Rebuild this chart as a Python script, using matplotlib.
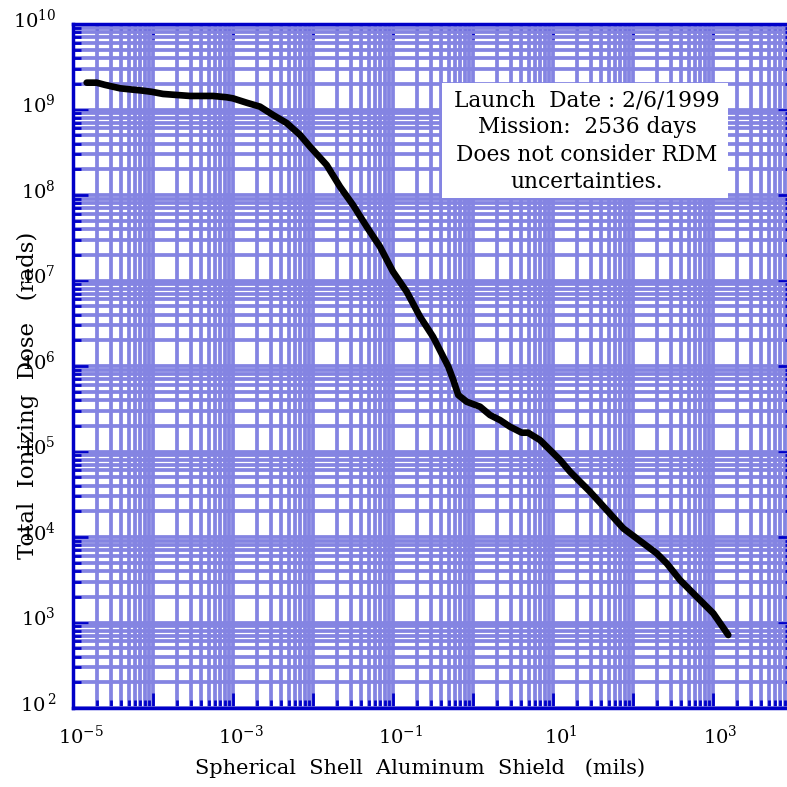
import matplotlib
matplotlib.use("Agg")
import matplotlib.pyplot as plt
import matplotlib.transforms as mtransforms
import numpy as np

plt.rcParams['font.family'] = ['DejaVu Serif']
plt.rcParams['mathtext.fontset'] = 'dejavuserif'

# shield thickness (mils) and total dose (rads)
thickness = [1.50e-5, 2.0e-5, 2.54e-5, 3.91e-5, 5.22e-5, 7.59e-5, 9.75e-5, 1.35e-4,
             2.93e-4, 5.69e-4, 8.43e-4, 1.01e-3, 1.50e-3, 2.20e-3, 3.20e-3, 4.74e-3,
             6.96e-3, 9.28e-3, 1.50e-2, 2.20e-2, 3.20e-2, 4.74e-2, 6.96e-2, 0.101,
             0.150, 0.220, 0.320, 0.497, 0.574, 0.662, 0.843, 1.24, 1.65, 2.20, 2.93,
             4.11, 4.93, 6.96, 12.4, 16.5, 29.3, 47.4, 76.6, 112, 200, 267, 391, 632,
             1020, 1570]
dose = [2.06e9, 2.06e9, 1.94e9, 1.77e9, 1.72e9, 1.66e9, 1.61e9, 1.52e9,
        1.44e9, 1.44e9, 1.39e9, 1.35e9, 1.20e9, 1.08e9, 8.63e8, 6.95e8,
        5.04e8, 3.67e8, 2.24e8, 1.25e8, 7.64e7, 4.26e7, 2.48e7, 1.27e7,
        7.40e6, 3.78e6, 2.20e6, 9.82e5, 6.85e5, 4.58e5, 3.82e5, 3.34e5, 2.67e5, 2.33e5, 1.95e5,
        1.66e5, 1.66e5, 1.36e5, 7.96e4, 5.81e4, 3.39e4, 2.07e4, 1.26e4, 9.66e3, 6.44e3, 4.92e3, 3.14e3, 2.00e3,
        1.28e3, 714]

x_decades = [-5, -4, -3, -2, -1, 0, 1, 2, 3, 4]
x_labels = ['$10^{-5}$', '', '$10^{-3}$', '', '$10^{-1}$', '', '$10^{1}$', '', '$10^{3}$', '']
y_decades = [2, 3, 4, 5, 6, 7, 8, 9, 10]
y_labels = ['$10^{\\,2}$', '$10^{3}$', '$10^{4}$', '$10^{5}$', '$10^{6}$',
            '$10^{7}$', '$10^{8}$', '$10^{9}$', '$10^{10}$']
info = "Launch  Date : 2/6/1999\nMission:  2536 days\nDoes not consider RDM\nuncertainties."

blue = '#0000c8'
gridc = '#8484e2'

fig = plt.figure(figsize=(7.87, 7.87), dpi=100)
ax = fig.add_axes([72.6/787, 1-708/787, 720/787, 684/787])
ax.set_xscale('log')
ax.set_yscale('log')

ax.grid(True, which='both', color=gridc, lw=2.7, ls='-')
ax.set_axisbelow(True)
ax.plot(thickness, dose, color='black', lw=4.8, solid_capstyle='round', zorder=5)

ax.set_xticks([10.0**d for d in x_decades])
ax.set_xticklabels(x_labels)
ax.set_yticks([10.0**d for d in y_decades])
ax.set_yticklabels(y_labels)
ax.xaxis.set_minor_locator(matplotlib.ticker.LogLocator(base=10, subs=np.arange(2, 10), numticks=30))
ax.yaxis.set_minor_locator(matplotlib.ticker.LogLocator(base=10, subs=np.arange(2, 10), numticks=30))
ax.xaxis.set_minor_formatter(matplotlib.ticker.NullFormatter())
ax.yaxis.set_minor_formatter(matplotlib.ticker.NullFormatter())
ax.set_xlim(1e-5, 1e4)
ax.set_ylim(1e2, 1e10)
ax.tick_params(which='both', direction='in', color=blue, width=2, top=True, right=True,
               labelsize=14)
ax.tick_params(which='major', length=11, pad=12)
ax.tick_params(which='minor', length=6)
for s in ax.spines.values():
    s.set_color(blue)
    s.set_linewidth(2.5)

dx = mtransforms.ScaledTranslation(8/100, 0, fig.dpi_scale_trans)
for lab in ax.get_xticklabels():
    lab.set_transform(lab.get_transform() + dx)
dy = mtransforms.ScaledTranslation(0, 6/100, fig.dpi_scale_trans)
for lab in ax.get_yticklabels():
    lab.set_transform(lab.get_transform() + dy)

fig.text(420/787, 1-768/787, 'Spherical  Shell  Aluminum  Shield   (mils)',
         ha='center', va='center', fontsize=15)
fig.text(28/787, 1-395/787, 'Total  Ionizing  Dose   (rads)', rotation=90,
         ha='center', va='center', fontsize=16.5)

fig.patches.append(matplotlib.patches.Rectangle((442/787, 1-198/787), 286/787, 115/787,
                   transform=fig.transFigure, facecolor='white', edgecolor='none', zorder=3))
fig.text(587/787, 1-141/787, info, ha='center', va='center', fontsize=15.6,
         linespacing=1.3, zorder=4)

fig.savefig('out.png', dpi=100)
